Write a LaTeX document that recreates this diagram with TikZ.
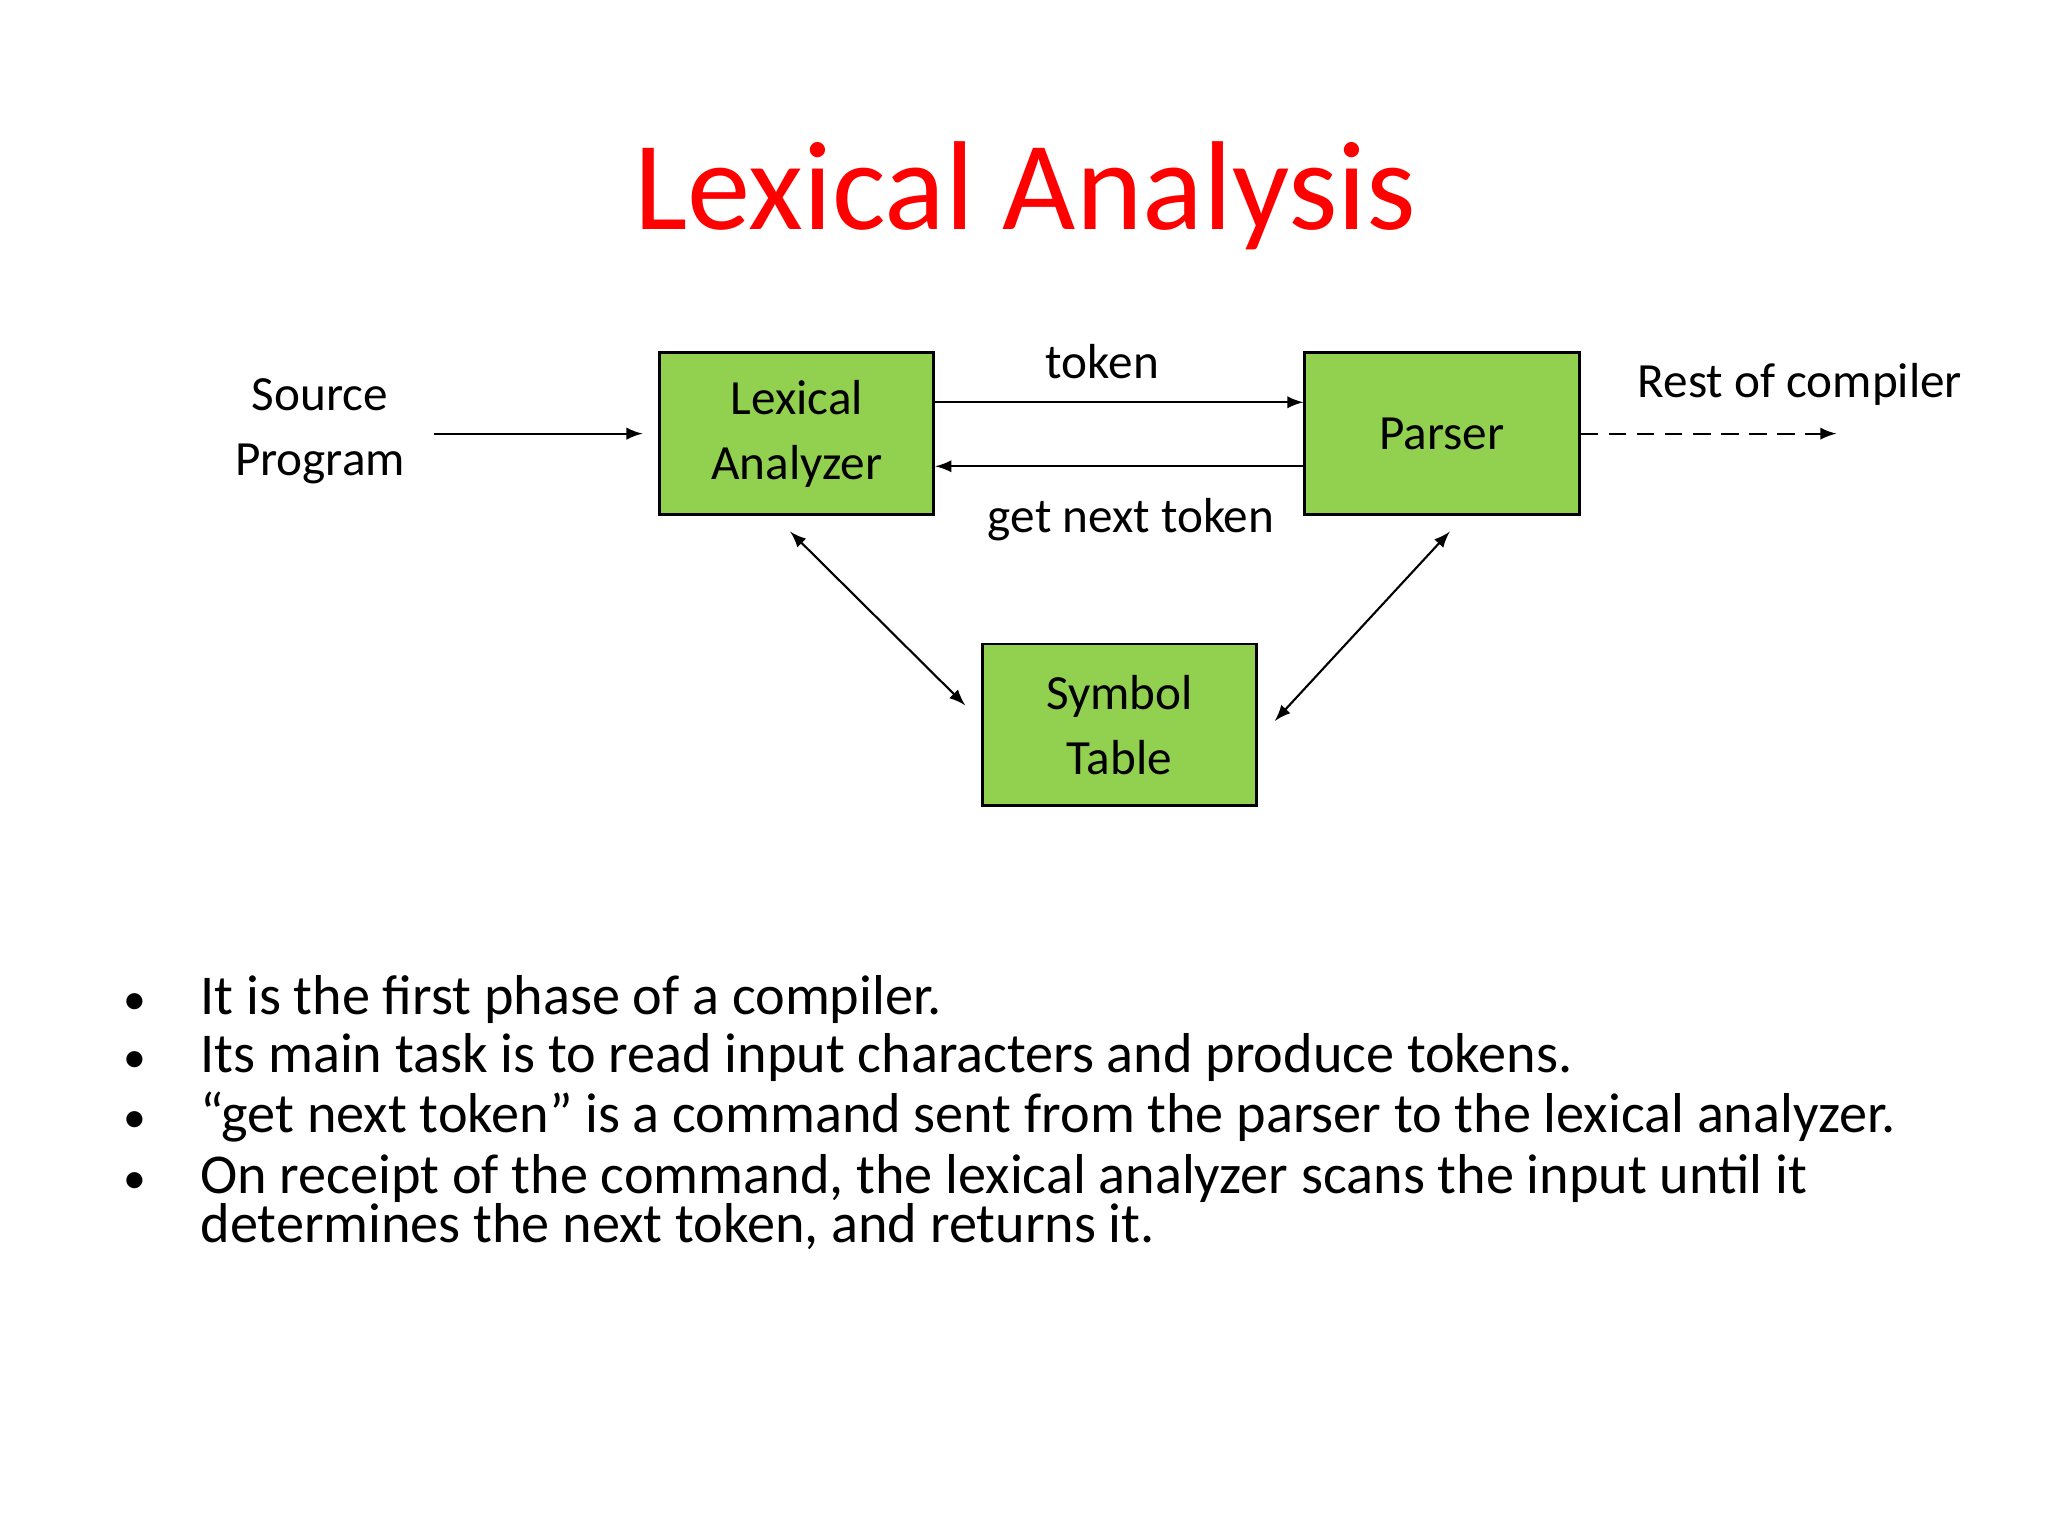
\documentclass[tikz,border=0pt]{standalone}
\usepackage{fontspec}
\setmainfont{Carlito}
\usetikzlibrary{positioning}
\definecolor{boxgreen}{HTML}{92D050}
\definecolor{titlered}{HTML}{FF0000}
\begin{document}
\begin{tikzpicture}[
    x = 0.013061cm,
    y = -0.013061cm,
    >=latex,
    block/.style = {draw=black, thick, fill=boxgreen, minimum width=210*0.013061cm,
    minimum height=124*0.013061cm, align=center, font=\fontsize{14}{18.5}\selectfont},
    label/.style = {align=center, font=\fontsize{14}{18.5}\selectfont},
    bullet/.style = {anchor=base west, inner sep=0pt, font=\fontsize{16}{17}\selectfont},
    conn/.style = {semithick},
]
\useasboundingbox (0,0) rectangle (1568,1176);

\node[text=titlered, font=\fontsize{36}{44}\selectfont] (title) at (785,150) {Lexical Analysis};

\node[block] (lexer) at (610,332) {Lexical\\Analyzer};
\node[block] (parser) at (1104,332) {Parser};
\node[block] (symtab) at (857,555) {Symbol\\Table};

\node[label] (source) at (245,330) {Source\\Program};
\node[label] (tok) at (844,277) {token};
\node[label] (gnt) at (866,398) {get next token};
\node[label] (rest) at (1378,294) {Rest of compiler};

\coordinate (src_end) at (332,332);
\coordinate (lex_in) at (492,332);
\coordinate (rest_end) at (1406,332);
\coordinate (lex_s) at (605,407);
\coordinate (sym_w) at (739,540);
\coordinate (sym_e) at (976,552);
\coordinate (par_s) at (1110,407);

\draw[conn, ->] (src_end) -- (lex_in);
\draw[conn, ->] (lexer.east |- 0,308) -- (parser.west |- 0,308);
\draw[conn, ->] (parser.west |- 0,357) -- (lexer.east |- 0,357);
\draw[conn, ->, dash pattern=on 5pt off 3pt] (parser.east) -- (rest_end);
\draw[conn, <->] (lex_s) -- (sym_w);
\draw[conn, <->] (sym_e) -- (par_s);

% bullet list
\foreach \yy/\txt in {767/{It is the first phase of a compiler.},
    811/{Its main task is to read input characters and produce tokens.},
    857/{“get next token” is a command sent from the parser to the lexical analyzer.},
    904/{On receipt of the command, the lexical analyzer scans the input until it}} {
    \node[bullet, font=\fontsize{13}{15}\selectfont] at (94,\yy+10) {•};
    \node[bullet] at (153,\yy+10) {\txt};
}
\node[bullet] (last) at (153,951) {determines the next token, and returns it.};
\end{tikzpicture}
\end{document}
